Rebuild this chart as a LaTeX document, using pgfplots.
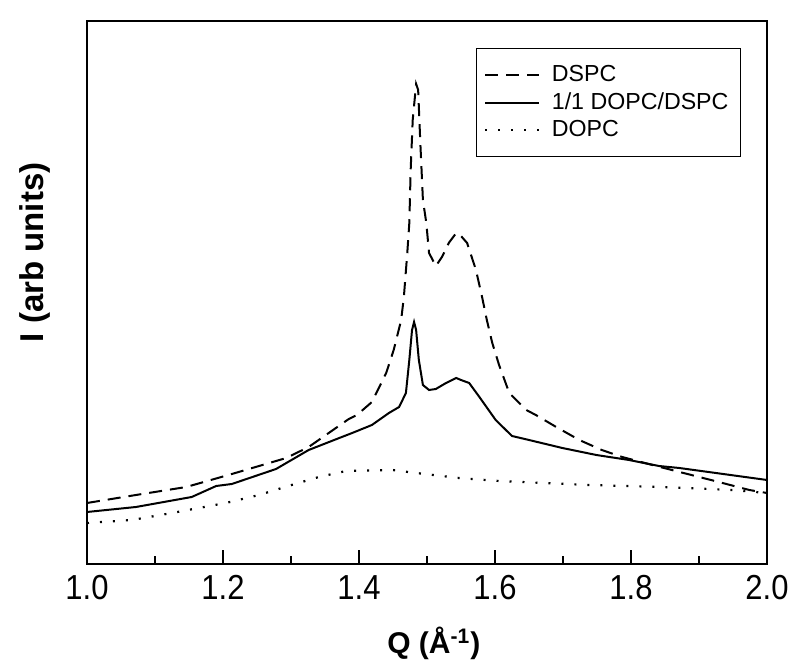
\documentclass[border=0pt]{standalone}
\usepackage{fontspec}
\setmainfont{Liberation Sans}
\usepackage{pgfplots}
\pgfplotsset{compat=1.18}
\begin{document}
\begin{tikzpicture}
\begin{axis}[
  scale only axis,
  width=340pt, height=271.5pt,
  at={(0,0)}, anchor=south west,
  xmin=1.0, xmax=2.0, ymin=0, ymax=543,
  xtick={1.0,1.2,1.4,1.6,1.8,2.0},
  minor x tick num=1,
  ytick=\empty,
  xtick pos=bottom,
  tick align=inside,
  major tick length=7pt,
  minor tick length=3.8pt,
  tick style={line width=0.8pt, black},
  axis line style={line width=1pt},
  /pgf/number format/assume math mode=true,
  xticklabel style={font=\fontsize{15.5}{18}\selectfont, yscale=1.12, yshift=-1.5pt,
    /pgf/number format/.cd, fixed, fixed zerofill, precision=1},
  xlabel={\textbf{Q (Å\textsuperscript{-1})}},
  xlabel style={font=\fontsize{15}{18}\selectfont, at={(axis description cs:0.51,-0.165)}, anchor=base},
  ylabel={\textbf{I (arb units)}},
  ylabel style={font=\fontsize{16.5}{19}\selectfont, at={(axis description cs:-0.0765,0.5737)}, anchor=center},
  legend style={at={(1,1)}, anchor=north east, xshift=-13pt, yshift=-13.5pt,
    font=\fontsize{11.6}{14}\selectfont, draw=black, line width=0.5pt,
    row sep=0pt, inner xsep=4pt, inner ysep=6.5pt,
    /tikz/every odd column/.append style={column sep=4pt}},
  legend cell align=left,
  legend image code/.code={\draw[#1] (0pt,0pt) -- (26.7pt,0pt);},
]
\addplot[black, line width=1pt, dash pattern=on 6.5pt off 4pt] coordinates {
(1.000,61) (1.072,69) (1.146,77) (1.213,90) (1.293,106) (1.326,117) (1.385,145)
(1.397,149) (1.419,162) (1.440,191) (1.451,214) (1.462,244) (1.466,267) (1.471,311)
(1.474,341) (1.476,394) (1.479,444) (1.484,480) (1.487,474) (1.490,424) (1.494,364)
(1.499,341) (1.503,311) (1.513,298) (1.522,307) (1.532,321) (1.543,331) (1.550,328)
(1.559,321) (1.572,294) (1.581,267) (1.588,244) (1.596,221) (1.606,199) (1.621,171)
(1.646,154) (1.660,149) (1.690,137) (1.724,124) (1.757,114) (1.787,107) (1.837,98)
(1.860,94) (1.929,82) (1.974,74) (2.000,71)
};
\addlegendentry{DSPC}
\addplot[black, line width=1pt] coordinates {
(1.000,52) (1.072,57) (1.154,67) (1.190,78) (1.213,80) (1.278,95) (1.326,114)
(1.371,126) (1.390,131) (1.419,139) (1.444,151) (1.459,157) (1.469,171) (1.474,204)
(1.478,234) (1.481,242) (1.484,234) (1.488,204) (1.494,179) (1.503,174) (1.513,175)
(1.528,181) (1.543,186) (1.550,184) (1.562,181) (1.576,168) (1.601,144) (1.625,128)
(1.650,124) (1.699,116) (1.749,109) (1.797,104) (1.841,98) (1.871,96) (2.000,84)
};
\addlegendentry{1/1 DOPC/DSPC}
\addplot[black, line width=1.1pt, dash pattern=on 1pt off 5.5pt] coordinates {
(1.000,41) (1.066,44) (1.125,51) (1.204,61) (1.253,69) (1.301,79) (1.341,87)
(1.381,93) (1.449,94) (1.484,91) (1.547,86) (1.606,83) (1.738,79) (1.846,77)
(1.949,74) (2.000,71)
};
\addlegendentry{DOPC}
\end{axis}
\path[use as bounding box] (-43.5pt,-52pt) rectangle (356.5pt,282pt);
\end{tikzpicture}
\end{document}
